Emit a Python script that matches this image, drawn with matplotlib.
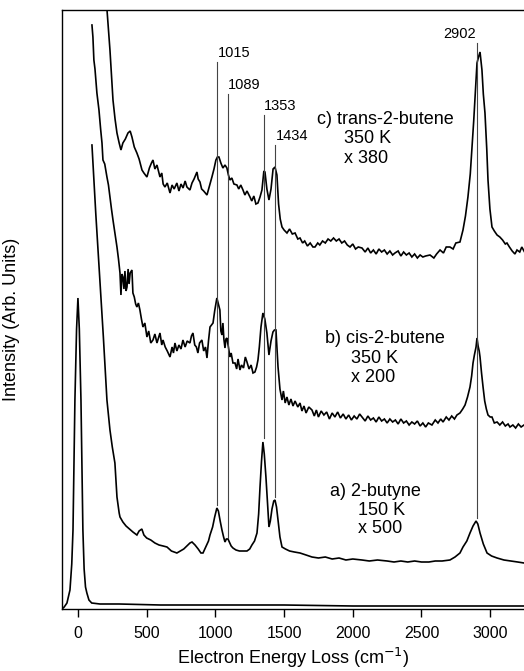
import matplotlib
matplotlib.use("Agg")
import matplotlib.pyplot as plt

plt.rcParams['font.family'] = ['Liberation Sans', 'DejaVu Sans']

# elastic peak (unscaled)
elastic_x = [-116, -100, -80, -58, -45, -36, -22, -10, 0, 10, 22, 36, 45, 55, 65, 80, 100,
             160, 300, 600, 1000, 1500, 2000, 2500, 3000, 3250]
elastic_y = [0, 2, 6, 19, 45, 79, 209, 280, 311, 280, 209, 79, 40, 22, 16, 9, 6,
             5, 5, 4, 4, 4, 3, 3, 3, 3]

# a) 2-butyne 150 K x500
a_x = [102, 130, 160, 185, 211, 233, 250, 269, 284, 300, 306, 327, 350, 375, 400, 429, 445,
       465, 480, 500, 530, 560, 590, 620, 648, 680, 700, 720, 745, 770, 800, 815, 830, 852,
       875, 895, 910, 930, 950, 961, 980, 995, 1011, 1022, 1035, 1048, 1060, 1070, 1080,
       1092, 1105, 1115, 1128, 1150, 1175, 1200, 1230, 1250, 1266, 1285, 1303, 1315, 1325,
       1336, 1346, 1356, 1368, 1380, 1390, 1400, 1412, 1425, 1434, 1445, 1456, 1470, 1485,
       1510, 1540, 1575, 1616, 1660, 1703, 1750, 1800, 1850, 1900, 1950, 2000, 2067, 2120,
       2180, 2250, 2300, 2350, 2400, 2450, 2500, 2554, 2600, 2650, 2707, 2744, 2780, 2802,
       2830, 2853, 2875, 2897, 2910, 2926, 2950, 2977, 3010, 3050, 3100, 3150, 3200, 3246]
a_y = [464, 395, 328, 272, 209, 179, 162, 146, 112, 96, 92, 87, 83, 80, 77, 74, 78,
       80, 74, 71, 69, 66, 64, 63, 62, 58, 57, 56, 58, 60, 64, 66, 67, 64,
       60, 56, 56, 62, 68, 74, 82, 92, 101, 98, 88, 79, 72, 67, 70,
       70, 66, 63, 61, 59, 58, 58, 58, 60, 64, 68, 76, 95, 122,
       148, 167, 155, 132, 105, 82, 88, 100, 108, 109, 102, 89, 72, 62,
       60, 58, 57, 56, 54, 52, 51, 52, 50, 51, 49, 50, 49, 48,
       49, 48, 47, 48, 47, 48, 47, 47, 48, 48, 49, 52, 56, 62,
       68, 76, 83, 88, 85, 76, 65, 56, 53, 51, 49, 48, 47, 46]

# b) cis-2-butene 350 K x200
b_x = [102, 109, 116, 124, 138, 153, 165, 175, 182, 195, 211, 222, 233, 244, 255, 270, 284,
       295, 306, 313, 320, 327, 335, 342, 350, 357, 365, 372, 380, 393, 400, 410, 420, 429,
       440, 451, 462, 473, 487, 502, 515, 530, 546, 560, 575, 597, 610, 619, 635, 650, 670,
       685, 695, 706, 720, 735, 750, 764, 780, 795, 815, 826, 837, 850, 862, 873, 885, 902,
       915, 928, 939, 950, 961, 972, 983, 995, 1011, 1020, 1033, 1040, 1048, 1055, 1062,
       1070, 1077, 1084, 1095, 1106, 1115, 1128, 1143, 1155, 1165, 1179, 1190, 1205, 1218,
       1230, 1245, 1260, 1274, 1288, 1300, 1310, 1320, 1332, 1346, 1360, 1375, 1390, 1405,
       1419, 1430, 1441, 1456, 1470, 1485, 1495, 1508, 1521, 1535, 1550, 1565, 1580, 1600,
       1616, 1630, 1645, 1660, 1680, 1703, 1720, 1735, 1750, 1770, 1790, 1810, 1830, 1850,
       1870, 1890, 1910, 1930, 1950, 1970, 1990, 2010, 2030, 2050, 2067, 2090, 2110, 2130,
       2150, 2170, 2190, 2210, 2230, 2250, 2270, 2290, 2310, 2330, 2350, 2370, 2390, 2410,
       2430, 2450, 2470, 2490, 2510, 2530, 2550, 2576, 2600, 2620, 2640, 2657, 2680, 2700,
       2720, 2740, 2758, 2780, 2800, 2817, 2835, 2853, 2865, 2875, 2885, 2897, 2904, 2912,
       2920, 2926, 2937, 2948, 2960, 2972, 2984, 3000, 3013, 3030, 3050, 3070, 3090, 3110,
       3130, 3144, 3165, 3185, 3205, 3225, 3246]
b_y = [584, 572, 549, 540, 516, 499, 480, 466, 449, 445, 432, 424, 412, 400, 389, 375, 362,
       350, 336, 314, 335, 332, 320, 338, 318, 322, 340, 325, 336, 339, 316, 312, 305, 302,
       306, 299, 290, 282, 286, 272, 278, 266, 269, 275, 266, 276, 264, 269, 262, 258, 252,
       262, 256, 266, 258, 264, 260, 269, 262, 268, 266, 273, 276, 264, 262, 256, 266, 269,
       258, 262, 251, 268, 282, 284, 286, 298, 311, 306, 299, 278, 274, 286, 270,
       261, 270, 271, 262, 252, 256, 246, 246, 240, 250, 239, 244, 241, 252,
       247, 240, 244, 236, 237, 242, 249, 262, 282, 296, 290, 276, 254, 268,
       277, 279, 279, 242, 220, 209, 218, 206, 212, 204, 210, 203, 208, 202,
       206, 198, 203, 196, 202, 199, 193, 199, 192, 198, 194, 197, 190, 196,
       192, 197, 191, 195, 190, 194, 189, 193, 190, 195, 192, 188, 193, 189,
       191, 187, 192, 188, 190, 186, 190, 187, 189, 185, 190, 186, 188, 184,
       187, 185, 188, 183, 186, 182, 186, 184, 189, 186, 190, 187, 192, 189,
       193, 190, 194, 196, 200, 204, 212, 222, 233, 246, 254, 262, 271, 263,
       258, 252, 236, 222, 208, 200, 194, 192, 192, 186, 187, 184, 187, 183,
       185, 182, 184, 181, 185, 182, 184]

# c) trans-2-butene 350 K x380
c_x = [200, 211, 233, 255, 270, 284, 300, 313, 327, 345, 364, 380, 393, 410, 429, 445, 466,
       480, 502, 520, 535, 546, 560, 575, 597, 610, 620, 633, 650, 670, 685, 700, 720, 735,
       750, 765, 780, 793, 815, 830, 845, 866, 875, 888, 900, 915, 939, 955, 975, 990, 1004,
       1015, 1026, 1040, 1055, 1070, 1084, 1095, 1106, 1120, 1135, 1157, 1170, 1185, 1201,
       1215, 1230, 1252, 1265, 1280, 1295, 1310, 1325, 1339, 1353, 1361, 1375, 1390, 1405,
       1420, 1434, 1448, 1460, 1472, 1485, 1500, 1521, 1540, 1560, 1580, 1600, 1616, 1635,
       1650, 1670, 1690, 1710, 1725, 1745, 1760, 1780, 1800, 1820, 1840, 1860, 1880, 1900,
       1920, 1940, 1960, 1980, 2000, 2020, 2040, 2067, 2090, 2110, 2130, 2150, 2170, 2190,
       2210, 2230, 2250, 2270, 2290, 2307, 2330, 2350, 2370, 2390, 2410, 2430, 2450, 2470,
       2490, 2510, 2530, 2562, 2590, 2610, 2635, 2660, 2680, 2707, 2730, 2750, 2780, 2802,
       2820, 2838, 2855, 2868, 2880, 2890, 2904, 2915, 2926, 2933, 2940, 2950, 2962, 2975,
       2984, 2998, 3013, 3030, 3050, 3070, 3090, 3110, 3122, 3140, 3160, 3180, 3195, 3215,
       3230, 3250]
c_y = [660, 600, 559, 509, 490, 476, 466, 459, 466, 470, 476, 478, 472, 462, 456, 450, 439,
       436, 432, 441, 446, 449, 440, 444, 432, 436, 425, 422, 426, 416, 424, 420, 426, 418,
       425, 421, 428, 422, 419, 426, 430, 437, 430, 427, 420, 418, 414, 422, 432, 440, 449,
       452, 452, 446, 441, 444, 441, 434, 429, 431, 425, 424, 420, 424, 419,
       414, 418, 412, 408, 413, 405, 406, 412, 419, 438, 437, 420, 409, 420,
       440, 442, 434, 405, 390, 382, 379, 376, 380, 375, 376, 370, 371, 366,
       368, 363, 366, 362, 362, 366, 364, 368, 366, 370, 368, 371, 368, 370,
       366, 368, 364, 362, 365, 360, 362, 361, 357, 361, 356, 359, 355, 360,
       357, 359, 355, 358, 354, 356, 358, 353, 357, 354, 356, 352, 355, 351,
       354, 352, 353, 354, 351, 355, 359, 356, 362, 362, 360, 366, 367, 379,
       393, 412, 435, 462, 488, 512, 546, 552, 557, 548, 539, 515, 496, 460,
       429, 400, 382, 378, 374, 372, 369, 365, 366, 362, 358, 355, 359, 357,
       362, 357]

# peak markers: position, line top, line bottom, label side
peak_pos = [1015, 1089, 1353, 1434, 2902]
peak_top = [547, 515, 494, 464, 566]
peak_bottom = [104, 71, 171, 112, 91]
peak_ha = ['left', 'left', 'left', 'left', 'right']

fig = plt.figure(figsize=(5.24, 6.71), dpi=100)
ax = fig.add_axes([62 / 524, 1 - 609 / 671, 1 - 62 / 524, 599 / 671])

for xs, ys in [(elastic_x, elastic_y), (a_x, a_y), (b_x, b_y), (c_x, c_y)]:
    ax.plot(xs, ys, color='black', lw=1.2, solid_joinstyle='miter')

for p, t, bt, ha in zip(peak_pos, peak_top, peak_bottom, peak_ha):
    ax.plot([p, p], [bt, t], color='#444444', lw=0.8)
    dx = 3 if ha == 'left' else -3
    ax.text(p + dx, t + 5, str(p), ha=ha, va='baseline', fontsize=10.5)

# sample labels
ax.text(1739, 485, 'c) trans-2-butene', fontsize=13, va='baseline')
ax.text(1936, 466, '350 K', fontsize=13, va='baseline')
ax.text(1936, 446, 'x 380', fontsize=13, va='baseline')
ax.text(1798, 266, 'b) cis-2-butene', fontsize=13, va='baseline')
ax.text(1987, 246, '350 K', fontsize=13, va='baseline')
ax.text(1987, 227, 'x 200', fontsize=13, va='baseline')
ax.text(1834, 113, 'a) 2-butyne', fontsize=13, va='baseline')
ax.text(2035, 94, '150 K', fontsize=13, va='baseline')
ax.text(2035, 76, 'x 500', fontsize=13, va='baseline')

ax.set_xlim(-116, 3246)
ax.set_ylim(0, 599)
ax.set_xticks([0, 500, 1000, 1500, 2000, 2500, 3000])
ax.set_yticks([])
ax.tick_params(axis='x', direction='out', length=6, width=1, labelsize=11.5, pad=6)
ax.spines['right'].set_visible(False)
for s in ['left', 'top', 'bottom']:
    ax.spines[s].set_linewidth(1.0)

ax.set_xlabel('Electron Energy Loss (cm$^{-1}$)', fontsize=13, labelpad=4)
ax.set_ylabel('Intensity (Arb. Units)', fontsize=13)
ax.yaxis.set_label_coords(-0.09, 0.484)

fig.savefig('out.png', dpi=100)
